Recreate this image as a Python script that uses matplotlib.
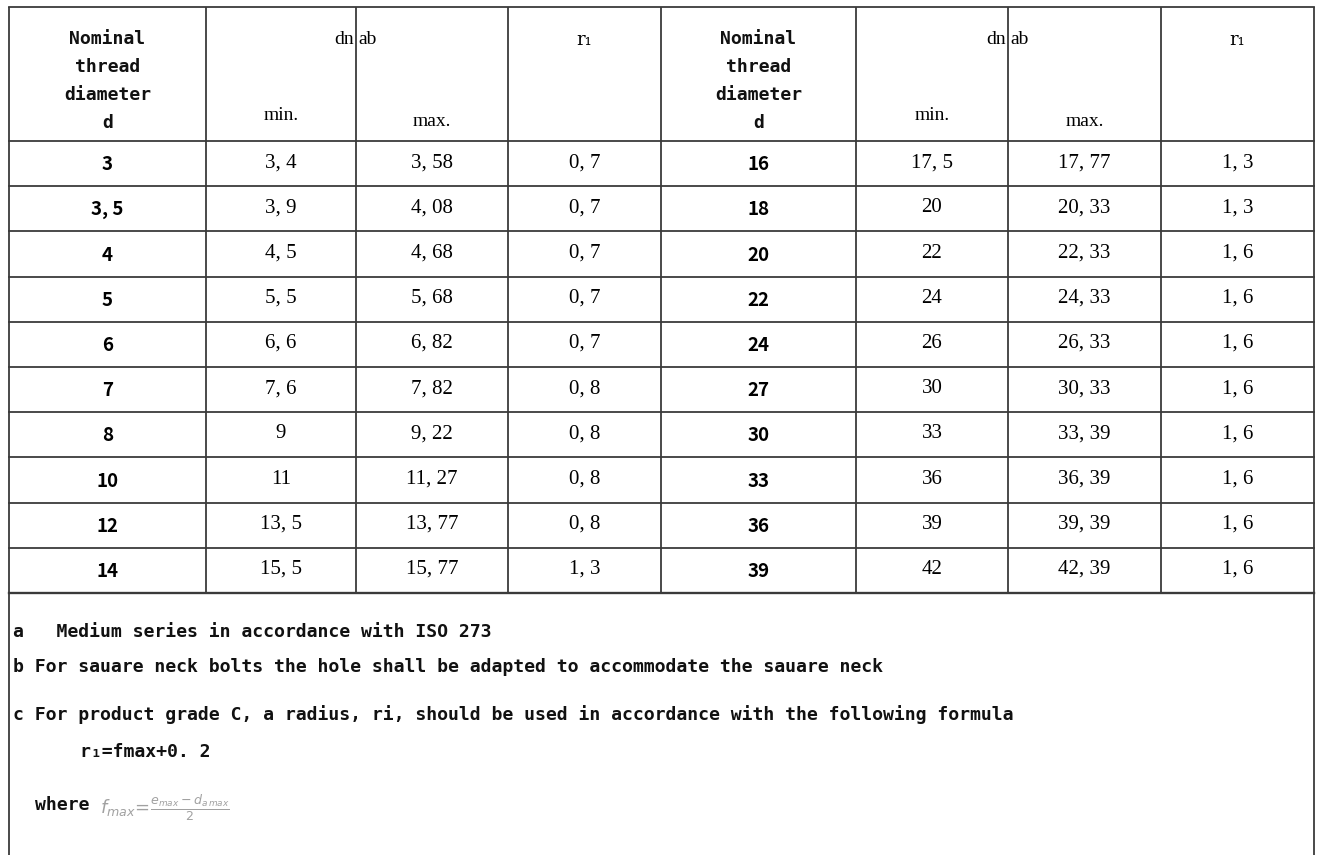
import matplotlib
matplotlib.use("Agg")
import matplotlib.pyplot as plt

# ---------------- data ----------------
d_left = ["3", "3, 5", "4", "5", "6", "7", "8", "10", "12", "14"]
min_left = ["3, 4", "3, 9", "4, 5", "5, 5", "6, 6", "7, 6", "9", "11", "13, 5", "15, 5"]
max_left = ["3, 58", "4, 08", "4, 68", "5, 68", "6, 82", "7, 82", "9, 22", "11, 27", "13, 77", "15, 77"]
r1_left = ["0, 7", "0, 7", "0, 7", "0, 7", "0, 7", "0, 8", "0, 8", "0, 8", "0, 8", "1, 3"]

d_right = ["16", "18", "20", "22", "24", "27", "30", "33", "36", "39"]
min_right = ["17, 5", "20", "22", "24", "26", "30", "33", "36", "39", "42"]
max_right = ["17, 77", "20, 33", "22, 33", "24, 33", "26, 33", "30, 33", "33, 39", "36, 39", "39, 39", "42, 39"]
r1_right = ["1, 3", "1, 3", "1, 6", "1, 6", "1, 6", "1, 6", "1, 6", "1, 6", "1, 6", "1, 6"]

header_nominal = ["Nominal", "thread", "diameter", "d"]
header_dn = "dn"
header_ab = "ab"
header_min = "min."
header_max = "max."
header_r1 = "r\u2081"

footnotes = [
    "a   Medium series in accordance with ISO 273",
    "b For sauare neck bolts the hole shall be adapted to accommodate the sauare neck",
    "c For product grade C, a radius, ri, should be used in accordance with the following formula",
]
formula_text = "r\u2081=fmax+0. 2"
where_text = "where"

# ---------------- layout ----------------
W, H = 1317, 855
fig = plt.figure(figsize=(W / 100, H / 100), dpi=100)
ax = fig.add_axes([0, 0, 1, 1])
ax.set_xlim(0, W)
ax.set_ylim(H, 0)
ax.axis("off")

col_x = [9, 206, 356, 508, 661, 856, 1008, 1161, 1314]
top = 7
head_bot = 141
row_h = 45.2
n_rows = len(d_left)
table_bot = head_bot + n_rows * row_h

lc = "#3a3a3a"
lw = 1.3

ax.plot([col_x[0], col_x[0]], [top, H], color=lc, lw=lw, solid_capstyle="butt")
ax.plot([col_x[-1], col_x[-1]], [top, H], color=lc, lw=lw, solid_capstyle="butt")
for x in col_x[1:-1]:
    ax.plot([x, x], [top, table_bot], color=lc, lw=lw, solid_capstyle="butt")
ax.plot([col_x[0], col_x[-1]], [top, top], color=lc, lw=lw)
for i in range(n_rows + 1):
    y = head_bot + i * row_h
    ax.plot([col_x[0], col_x[-1]], [y, y], color=lc, lw=lw * (1.3 if i == n_rows else 1.0))

mono = "DejaVu Sans Mono"
serif = "Liberation Serif"
sansb = "Noto Sans CJK SC"

mono_fs = 13.1
serif_fs = 15
num_fs = 13.5

for half in (0, 4):
    cx = (col_x[half] + col_x[half + 1]) / 2
    for k, t in enumerate(header_nominal):
        ax.text(cx, 39 + k * 28, t, ha="center", va="center", family=mono,
                fontsize=mono_fs, fontweight="bold", color="#111111")
    ax.text(col_x[half + 2] - 2, 40, header_dn, ha="right", va="center",
            family=serif, fontsize=serif_fs - 1)
    ax.text(col_x[half + 2] + 2, 40, header_ab, ha="left", va="center",
            family=serif, fontsize=serif_fs - 1)
    ax.text((col_x[half + 1] + col_x[half + 2]) / 2, 116, header_min, ha="center",
            va="center", family=serif, fontsize=serif_fs - 1)
    ax.text((col_x[half + 2] + col_x[half + 3]) / 2, 121, header_max, ha="center",
            va="center", family=serif, fontsize=serif_fs - 1)
    ax.text((col_x[half + 3] + col_x[half + 4]) / 2, 40, header_r1, ha="center",
            va="center", family=["DejaVu Serif"], fontsize=serif_fs - 2)

for half, cols in ((0, (d_left, min_left, max_left, r1_left)),
                   (4, (d_right, min_right, max_right, r1_right))):
    for i in range(n_rows):
        yc = head_bot + (i + 0.5) * row_h
        for j, arr in enumerate(cols):
            cx = (col_x[half + j] + col_x[half + j + 1]) / 2
            if j == 0:
                ax.text(cx, yc + 1, arr[i], ha="center", va="center", family=sansb,
                        fontweight="bold", fontsize=num_fs)
            else:
                ax.text(cx, yc - 1, arr[i], ha="center", va="center", family=serif,
                        fontsize=serif_fs)

foot_y = [632, 667, 715]
for t, y in zip(footnotes, foot_y):
    ax.text(13, y, t, ha="left", va="center", family=mono, fontsize=mono_fs,
            fontweight="bold", color="#111111")
ax.text(80, 752, formula_text, ha="left", va="center", family=mono, fontsize=mono_fs,
        fontweight="bold", color="#111111")
ax.text(35, 805, where_text, ha="left", va="center", family=mono, fontsize=mono_fs,
        fontweight="bold", color="#111111")
ax.text(100, 808, r"$f_{max}\!=\!\frac{e_{max}-d_{a\,max}}{2}$", ha="left", va="center",
        fontsize=13, color="#8a8a8a", alpha=0.8)

fig.savefig("out.png", dpi=100)
